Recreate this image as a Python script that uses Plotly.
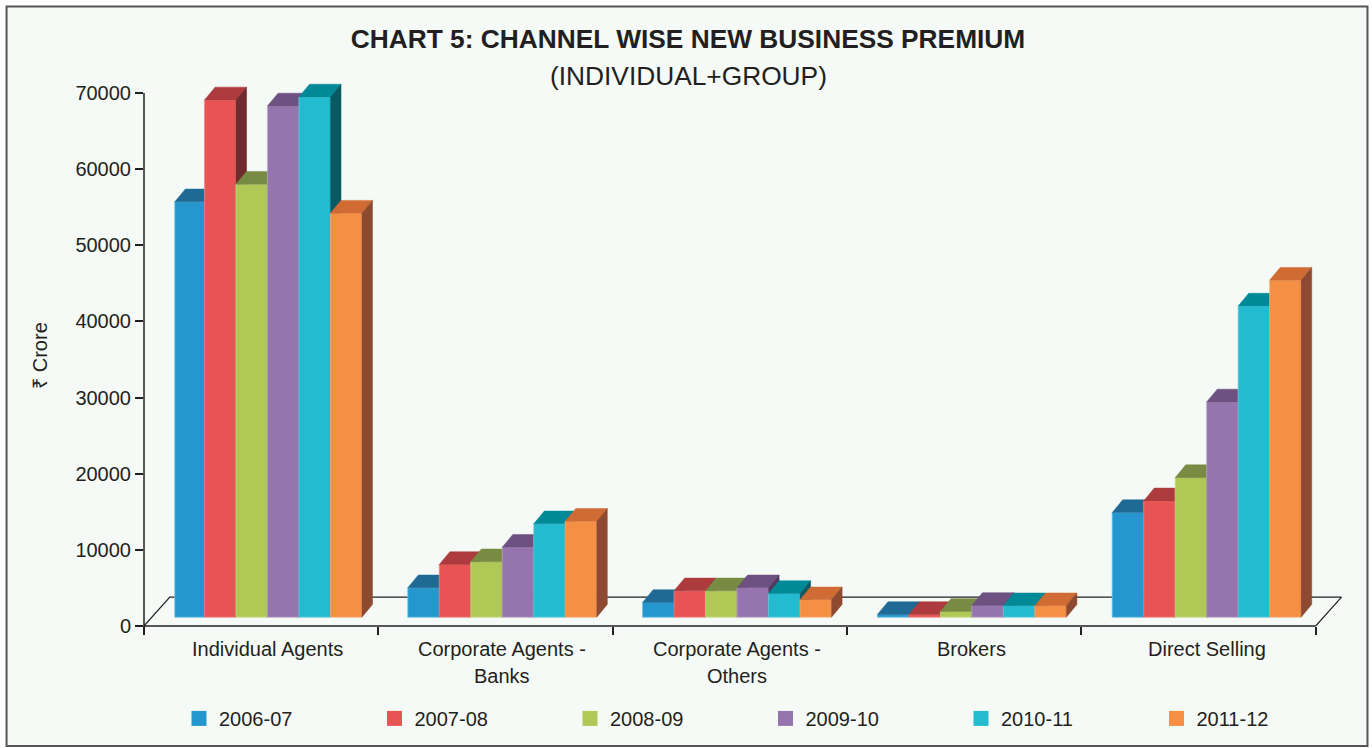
import plotly.graph_objects as go

# Channel-wise premium, one list per financial year (Rs crore)
CATEGORIES = ["Individual Agents", "Corporate Agents -<br>Banks",
              "Corporate Agents -<br>Others", "Brokers", "Direct Selling"]
YEARS = ["2006-07", "2007-08", "2008-09", "2009-10", "2010-11", "2011-12"]
VALUES_2006 = [54560, 3860, 1930, 350, 13740]
VALUES_2007 = [67940, 6920, 3460, 350, 15280]
VALUES_2008 = [56870, 7270, 3460, 750, 18330]
VALUES_2009 = [67150, 9190, 3860, 1540, 28270]
VALUES_2010 = [68330, 12260, 3110, 1500, 40870]
VALUES_2011 = [53070, 12600, 2280, 1500, 44270]
SERIES = [VALUES_2006, VALUES_2007, VALUES_2008, VALUES_2009, VALUES_2010, VALUES_2011]

FRONT = ["#2497CF", "#E85454", "#AFC957", "#9675AE", "#22BBCF", "#F58F43"]
TOP = ["#1F6A94", "#AD3A3C", "#778B42", "#6D5180", "#008A98", "#CF6B33"]
SIDE = ["#154F6E", "#6F2B2D", "#56662E", "#4F3A60", "#0A5A63", "#8E4A30"]
EDGE = ["#6DBDE2", "#F08A8A", "#CBDD8C", "#BBA5CC", "#70D3E0", "#F9B684"]

INK = "#231F20"
FONT = "Liberation Sans"

# Page geometry, in pixels: where the visible axes run
W, H = 1372, 748
LEFT, RIGHT, TOP_Y, BOTTOM = 143.5, 1315.7, 93.1, 626.5
PX_PER_CAT = (RIGHT - LEFT) / 5
PX_PER_UNIT = (BOTTOM - TOP_Y) / 70000

# The plot area reaches past the axes so that the projected faces are not cut
PLOT_RIGHT, PLOT_TOP = 1350.0, 70.0
X_MAX = (PLOT_RIGHT - LEFT) / PX_PER_CAT
Y_MAX = (BOTTOM - PLOT_TOP) / PX_PER_UNIT


def px_x(px):
    return (px - LEFT) / (PLOT_RIGHT - LEFT)


def px_y(py):
    return (BOTTOM - py) / (BOTTOM - PLOT_TOP)


# 3D projection expressed in axis units
BAR_W = 31.5 / PX_PER_CAT
GROUP_START = (267.0 - LEFT) / PX_PER_CAT
GROUP_STEP = 234.9 / PX_PER_CAT
BASE = 8.8 / PX_PER_UNIT
DX = 10.6 / PX_PER_CAT
DY = 12.8 / PX_PER_UNIT
FLOOR_DX = 25.8 / PX_PER_CAT
FLOOR_DY = 29.0 / PX_PER_UNIT
# The first bar of the set starts slightly late
FIRST_BAR_TRIM = 1.8 / PX_PER_CAT

fig = go.Figure()

# Floor outline sits on the base axes, beneath every bar
fig.add_trace(go.Scatter(
    x=[0, FLOOR_DX, 5 + FLOOR_DX, 5], y=[0, FLOOR_DY, FLOOR_DY, 0],
    mode="lines", line=dict(color=INK, width=1.2), hoverinfo="skip",
    showlegend=False, yaxis="y",
))

# Each year gets its own overlaid axes so later bars paint over earlier ones
for s, (year, values) in enumerate(zip(YEARS, SERIES)):
    axis = f"y{s + 2}"
    lefts, rights = [], []
    for g in range(len(values)):
        c = GROUP_START + g * GROUP_STEP + (s - 2.5) * BAR_W
        trim = FIRST_BAR_TRIM if (s == 0 and g == 0) else 0
        lefts.append(c - BAR_W / 2 + trim)
        rights.append(c + BAR_W / 2)

    top_x, top_y, side_x, side_y = [], [], [], []
    for l, r, v in zip(lefts, rights, values):
        t = BASE + v
        top_x += [l, l + DX, r + DX, r, l, None]
        top_y += [t, t + DY, t + DY, t, t, None]
        side_x += [r, r + DX, r + DX, r, r, None]
        side_y += [BASE, BASE + DY, t + DY, t, BASE, None]

    for xs, ys, colour in ((top_x, top_y, TOP[s]), (side_x, side_y, SIDE[s])):
        fig.add_trace(go.Scatter(
            x=xs, y=ys, mode="lines", fill="toself", fillcolor=colour,
            line=dict(color=colour, width=0.5), hoverinfo="skip",
            showlegend=False, yaxis=axis,
        ))

    fig.add_trace(go.Bar(
        x=[(l + r) / 2 for l, r in zip(lefts, rights)], y=values, base=BASE,
        width=[r - l for l, r in zip(lefts, rights)], name=year,
        marker=dict(color=FRONT[s], line=dict(color=EDGE[s], width=0.75)),
        showlegend=False, yaxis=axis,
    ))

    # Legend key with a larger swatch than bar traces provide
    fig.add_trace(go.Scatter(
        x=[None], y=[None], mode="markers", name=year,
        marker=dict(symbol="square", size=15, color=FRONT[s]), yaxis="y",
    ))

overlays = {
    f"yaxis{i}": dict(overlaying="y", range=[0, Y_MAX], visible=False, fixedrange=True)
    for i in range(2, 8)
}

# Category captions are set line by line to keep the tight leading
annotations = []
for g, label in enumerate(CATEGORIES):
    for n, line in enumerate(label.split("<br>")):
        annotations.append(dict(
            x=GROUP_START + g * GROUP_STEP, y=px_y(650 + 26.5 * n), xref="x", yref="paper",
            text=line, showarrow=False, xanchor="center", yanchor="middle",
            font=dict(family=FONT, size=20, color=INK),
        ))

# Second title line and the rotated unit label
annotations.append(dict(
    x=px_x(688), y=px_y(76), xref="paper", yref="paper", text="(INDIVIDUAL+GROUP)",
    showarrow=False, xanchor="center", yanchor="middle",
    font=dict(family=FONT, size=26.3, color=INK),
))
annotations.append(dict(
    x=px_x(40), y=px_y(355.5), xref="paper", yref="paper", text="₹ Crore", textangle=-90,
    showarrow=False, xanchor="center", yanchor="middle",
    font=dict(family=FONT, size=20, color=INK),
))

axis_line = dict(color=INK, width=1.5)

fig.update_layout(
    width=W, height=H, autosize=False,
    margin=dict(l=LEFT, r=W - PLOT_RIGHT, t=PLOT_TOP, b=H - BOTTOM, autoexpand=False),
    paper_bgcolor="white", plot_bgcolor="rgba(0,0,0,0)",
    font=dict(family=FONT, size=20, color=INK),
    barmode="overlay",
    title=dict(
        text="<b>CHART 5: CHANNEL WISE NEW BUSINESS PREMIUM</b>",
        x=688 / W, xanchor="center", y=1 - 38.5 / H, yanchor="middle",
        font=dict(family=FONT, size=26.3, color=INK),
    ),
    xaxis=dict(
        range=[0, X_MAX], tickvals=[0, 1, 2, 3, 4, 5], ticktext=[""] * 6,
        ticks="outside", ticklen=8, tickwidth=1.5, tickcolor=INK,
        showline=False, showgrid=False, zeroline=False, fixedrange=True,
    ),
    yaxis=dict(
        range=[0, Y_MAX], tickvals=list(range(0, 70001, 10000)), tickformat="d",
        ticks="outside", ticklen=8, tickwidth=1.5, tickcolor=INK,
        showline=False, showgrid=False, zeroline=False, fixedrange=True,
    ),
    legend=dict(
        orientation="h", x=px_x(178.5), xanchor="left", y=px_y(719), yanchor="middle",
        entrywidth=150.5, entrywidthmode="pixels", borderwidth=0,
        bgcolor="rgba(0,0,0,0)", font=dict(family=FONT, size=20, color=INK),
        itemclick=False, itemdoubleclick=False,
    ),
    annotations=annotations,
    shapes=[
        dict(
            type="rect", xref="paper", yref="paper", layer="below",
            x0=px_x(6), x1=px_x(1367.5), y0=px_y(6.5), y1=px_y(746.5),
            fillcolor="#F5FAF7", line=dict(color="#555555", width=2),
        ),
        # Axis lines stop at the last tick even though the plot area runs on
        dict(type="line", xref="paper", yref="paper", layer="above",
             x0=0, x1=0, y0=px_y(634), y1=px_y(TOP_Y), line=axis_line),
        dict(type="line", xref="paper", yref="paper", layer="above",
             x0=0, x1=px_x(RIGHT), y0=0, y1=0, line=axis_line),
    ],
    **overlays,
)

fig.write_html("out.html", config=dict(displayModeBar=False))
